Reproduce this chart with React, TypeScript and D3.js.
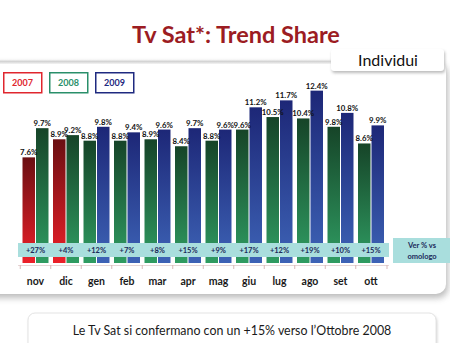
import React from "react";
import * as d3 from "d3";

const months = ["nov", "dic", "gen", "feb", "mar", "apr", "mag", "giu", "lug", "ago", "set", "ott"];
const prevYear = ["2007", "2007", "2008", "2008", "2008", "2008", "2008", "2008", "2008", "2008", "2008", "2008"];
const currYear = ["2008", "2008", "2009", "2009", "2009", "2009", "2009", "2009", "2009", "2009", "2009", "2009"];
const prevValues = [7.6, 8.9, 8.8, 8.8, 8.9, 8.4, 8.8, 9.6, 10.5, 10.4, 9.8, 8.6];
const currValues = [9.7, 9.2, 9.8, 9.4, 9.6, 9.7, 9.6, 11.2, 11.7, 12.4, 10.8, 9.9];
const variations = ["+27%", "+4%", "+12%", "+7%", "+8%", "+15%", "+9%", "+17%", "+12%", "+19%", "+10%", "+15%"];
const legendYears = ["2007", "2008", "2009"];

const W = 450;
const H = 343;
const FONT = "Lato, 'Open Sans', sans-serif";

const legendColors: Record<string, string> = { "2007": "#e0262e", "2008": "#2a8f6a", "2009": "#1f2a80" };
const gradStops: Record<string, [string, string]> = {
  "2007": ["#6a0f12", "#ec2029"],
  "2008": ["#164428", "#2f9c62"],
  "2009": ["#1d2777", "#3d63b6"],
};

export default function App() {
  const x = d3.scaleBand<string>().domain(months).range([20.25, 386.25]).paddingInner(0.115).paddingOuter(0.0575);
  const y = d3.scaleLinear().domain([0, 13]).range([263, 263 - 13 * 13.9]);
  const bw = x.bandwidth() / 2;

  const bars: { key: string; x: number; v: number; year: string }[] = [];
  months.forEach((m, i) => {
    const x0 = x(m)!;
    bars.push({ key: m + "p", x: x0, v: prevValues[i], year: prevYear[i] });
    bars.push({ key: m + "c", x: x0 + bw, v: currValues[i], year: currYear[i] });
  });

  const legendX = d3.scalePoint<string>().domain(legendYears).range([3, 95]);

  return (
    <svg width={W} height={H} style={{ position: "absolute", left: 0, top: 0, background: "#fff" }} fontFamily={FONT}>
      <defs>
        {legendYears.map((yr) => (
          <linearGradient key={yr} id={"g" + yr} x1="0" y1="0" x2="0" y2="1">
            <stop offset="0" stopColor={gradStops[yr][0]} />
            <stop offset="1" stopColor={gradStops[yr][1]} />
          </linearGradient>
        ))}
        <filter id="sh" x="-10%" y="-10%" width="120%" height="130%">
          <feGaussianBlur stdDeviation="3" />
        </filter>
        <filter id="sh2" x="-10%" y="-30%" width="120%" height="160%">
          <feGaussianBlur stdDeviation="1.5" />
        </filter>
        <linearGradient id="topline" x1="0" y1="0" x2="0" y2="1">
          <stop offset="0" stopColor="#ffffff" />
          <stop offset="0.5" stopColor="#d4d4d4" />
          <stop offset="1" stopColor="#f4f4f4" />
        </linearGradient>
      </defs>

      {/* title */}
      <text x={236} y={43} textAnchor="middle" fontSize={23.5} fontWeight={700} fill="#9c1c22">
        Tv Sat*: Trend Share
      </text>

      {/* panel shadow + panel */}
      <rect x={-20} y={64} width={468} height={234} rx={10} fill="#a0a0a0" opacity={0.7} filter="url(#sh)" />
      <rect x={-20} y={60} width={466} height={234} rx={10} fill="#ffffff" />
      <rect x={0} y={59} width={335} height={5} fill="url(#topline)" />

      {/* Individui box */}
      <rect x={332} y={51} width={113} height={22} rx={3} fill="#bbb" filter="url(#sh2)" />
      <rect x={331} y={49} width={113} height={22} rx={3} fill="#fff" />
      <text x={388} y={66} textAnchor="middle" fontSize={16} fill="#111">
        Individui
      </text>

      {/* legend */}
      {legendYears.map((yr) => (
        <g key={yr} transform={`translate(${legendX(yr)},72)`}>
          <rect x={0.75} y={0.75} width={38} height={20} fill="#fff" stroke={legendColors[yr]} strokeWidth={1.5} />
          <text x={19.5} y={14} textAnchor="middle" fontSize={9} fontWeight={700} fill={legendColors[yr]}>
            {yr}
          </text>
        </g>
      ))}

      {/* bars */}
      {bars.map((b) => (
        <rect key={b.key} x={b.x + 0.5} y={y(b.v)} width={bw - 1} height={y(0) - y(b.v)} fill={`url(#g${b.year})`} />
      ))}

      {/* value labels */}
      {bars.map((b) => (
        <text key={b.key + "t"} x={b.x + bw / 2} y={y(b.v) - 2} textAnchor="middle" fontSize={7.8} fontWeight={700} fill="#111">
          {d3.format(".1f")(b.v)}%
        </text>
      ))}

      {/* variation band */}
      <rect x={18} y={243} width={371} height={14} fill="#a9dedd" />
      {months.map((m, i) => (
        <text key={m + "v"} x={x(m)! + x.bandwidth() / 2} y={253} textAnchor="middle" fontSize={7.5} fontWeight={700} fill="#1b2a5a">
          {variations[i]}
        </text>
      ))}
      <rect x={393} y={238} width={57} height={25} fill="#a9dedd" />
      <text x={422} y={248} textAnchor="middle" fontSize={7.5} fontWeight={700} fill="#1b2a5a">
        Ver % vs
      </text>
      <text x={422} y={259} textAnchor="middle" fontSize={7.5} fontWeight={700} fill="#1b2a5a">
        omologo
      </text>

      {/* axis */}
      <line x1={18} x2={389} y1={265.5} y2={265.5} stroke="#e6d6d6" strokeWidth={1} />
      {months.map((m) => (
        <line key={m + "k"} x1={x(m)! - x.step() * x.paddingInner() / 2} x2={x(m)! - x.step() * x.paddingInner() / 2} y1={265} y2={269} stroke="#d9b9b9" />
      ))}
      <line x1={387} x2={387} y1={265} y2={269} stroke="#d9b9b9" />
      {months.map((m) => (
        <text key={m + "l"} x={x(m)! + x.bandwidth() / 2} y={285} textAnchor="middle" fontSize={10.5} fontWeight={700} fill="#1a1a1a">
          {m}
        </text>
      ))}

      {/* bottom note */}
      <rect x={29} y={315} width={408} height={40} rx={7} fill="#ccc" filter="url(#sh2)" />
      <rect x={28} y={313} width={408} height={40} rx={7} fill="#fff" stroke="#e4e4e4" />
      <text x={232} y={335} textAnchor="middle" fontSize={12.4} fill="#1a1a1a">
        Le Tv Sat si confermano con un +15% verso l’Ottobre 2008
      </text>
    </svg>
  );
}
